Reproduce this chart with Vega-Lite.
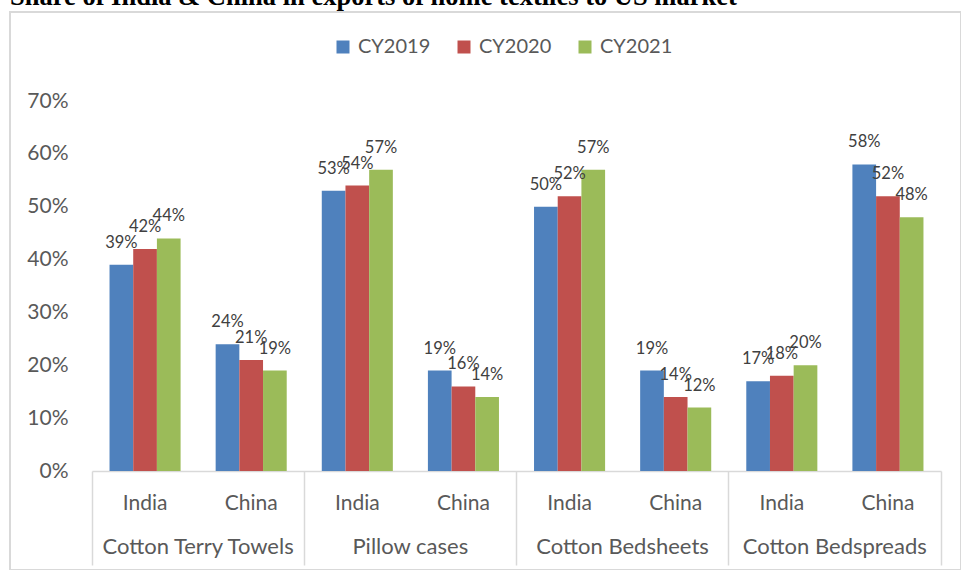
{
  "$schema": "https://vega.github.io/schema/vega-lite/v6.json",
  "width": 951,
  "height": 558,
  "autosize": {"type": "none"},
  "padding": {"left": 10, "top": 12, "right": 0, "bottom": 0},
  "background": "white",
  "title": {
    "text": "Share of India & China in exports of home textiles to US market",
    "anchor": "start",
    "frame": "group",
    "font": "Liberation Serif",
    "fontSize": 26.5,
    "fontWeight": "bold",
    "color": "black",
    "baseline": "alphabetic",
    "offset": 0,
    "dy": 19
  },
  "config": {
    "view": {"stroke": "#d9d9d9", "strokeWidth": 2},
    "axis": {"grid": false}
  },
  "data": {
    "values": [
      {"group": "Cotton Terry Towels|India", "year": "CY2019", "value": 0.39},
      {"group": "Cotton Terry Towels|India", "year": "CY2020", "value": 0.42},
      {"group": "Cotton Terry Towels|India", "year": "CY2021", "value": 0.44},
      {"group": "Cotton Terry Towels|China", "year": "CY2019", "value": 0.24},
      {"group": "Cotton Terry Towels|China", "year": "CY2020", "value": 0.21},
      {"group": "Cotton Terry Towels|China", "year": "CY2021", "value": 0.19},
      {"group": "Pillow cases|India", "year": "CY2019", "value": 0.53},
      {"group": "Pillow cases|India", "year": "CY2020", "value": 0.54},
      {"group": "Pillow cases|India", "year": "CY2021", "value": 0.57},
      {"group": "Pillow cases|China", "year": "CY2019", "value": 0.19},
      {"group": "Pillow cases|China", "year": "CY2020", "value": 0.16},
      {"group": "Pillow cases|China", "year": "CY2021", "value": 0.14},
      {"group": "Cotton Bedsheets|India", "year": "CY2019", "value": 0.50},
      {"group": "Cotton Bedsheets|India", "year": "CY2020", "value": 0.52},
      {"group": "Cotton Bedsheets|India", "year": "CY2021", "value": 0.57},
      {"group": "Cotton Bedsheets|China", "year": "CY2019", "value": 0.19},
      {"group": "Cotton Bedsheets|China", "year": "CY2020", "value": 0.14},
      {"group": "Cotton Bedsheets|China", "year": "CY2021", "value": 0.12},
      {"group": "Cotton Bedspreads|India", "year": "CY2019", "value": 0.17},
      {"group": "Cotton Bedspreads|India", "year": "CY2020", "value": 0.18},
      {"group": "Cotton Bedspreads|India", "year": "CY2021", "value": 0.20},
      {"group": "Cotton Bedspreads|China", "year": "CY2019", "value": 0.58},
      {"group": "Cotton Bedspreads|China", "year": "CY2020", "value": 0.52},
      {"group": "Cotton Bedspreads|China", "year": "CY2021", "value": 0.48}
    ]
  },
  "layer": [
    {
      "mark": {"type": "bar"},
      "encoding": {
        "x": {
          "field": "group", "type": "nominal", "sort": null,
          "scale": {"range": [82, 931], "paddingInner": 0, "paddingOuter": 0},
          "axis": {
            "orient": "bottom", "offset": -99, "title": null,
            "ticks": false, "domain": true, "domainColor": "#d9d9d9", "domainWidth": 1.5,
            "labelExpr": "split(datum.value, '|')[1]",
            "labelFont": "Lato", "labelFontSize": 21, "labelColor": "#595959",
            "labelPadding": 21, "labelAngle": 0, "labelOverlap": false
          }
        },
        "xOffset": {
          "field": "year", "type": "nominal",
          "scale": {"paddingInner": 0, "paddingOuter": 0.74}
        },
        "y": {
          "field": "value", "type": "quantitative",
          "scale": {"domain": [0, 0.7], "range": [459, 89], "nice": false},
          "axis": {
            "orient": "left", "offset": -82, "title": null,
            "values": [0, 0.1, 0.2, 0.3, 0.4, 0.5, 0.6, 0.7],
            "format": ".0%", "domain": false, "ticks": false, "grid": false,
            "labelFont": "Lato", "labelFontSize": 21, "labelColor": "#595959",
            "labelPadding": 24
          }
        },
        "color": {
          "field": "year", "type": "nominal",
          "scale": {"domain": ["CY2019", "CY2020", "CY2021"], "range": ["#4F81BD", "#C0504D", "#9BBB59"]},
          "legend": {
            "orient": "none", "legendX": 323, "legendY": 25,
            "direction": "horizontal", "title": null,
            "symbolType": "square", "symbolSize": 169, "symbolStrokeWidth": 0,
            "labelFont": "Lato", "labelFontSize": 20, "labelColor": "#595959",
            "columnPadding": 23, "labelOffset": 5, "padding": 0
          }
        }
      }
    },
    {
      "mark": {"type": "text", "baseline": "alphabetic", "dy": -17, "font": "Lato", "fontSize": 16.5, "color": "#404040"},
      "encoding": {
        "x": {
          "field": "group", "type": "nominal", "sort": null,
          "axis": {
            "orient": "bottom", "offset": -99, "title": null,
            "values": ["Cotton Terry Towels|India", "Pillow cases|India", "Cotton Bedsheets|India", "Cotton Bedspreads|India"],
            "bandPosition": 0,
            "ticks": true, "tickSize": 94, "tickColor": "#d9d9d9", "tickWidth": 1.5,
            "domain": false,
            "labelExpr": "split(datum.value, '|')[0]",
            "labelOffset": 53, "labelPadding": -29, "labelLimit": 0,
            "labelFont": "Lato", "labelFontSize": 22, "labelColor": "#595959",
            "labelAngle": 0, "labelOverlap": false, "labelBound": false
          }
        },
        "xOffset": {"field": "year", "type": "nominal"},
        "y": {"field": "value", "type": "quantitative"},
        "text": {"field": "value", "type": "quantitative", "format": ".0%"}
      }
    },
    {
      "mark": {"type": "text", "opacity": 0, "text": ""},
      "encoding": {
        "x": {
          "field": "group", "type": "nominal", "sort": null,
          "axis": {
            "orient": "bottom", "offset": -99, "title": null,
            "values": ["Cotton Bedspreads|China"],
            "bandPosition": 1,
            "ticks": true, "tickSize": 94, "tickColor": "#d9d9d9", "tickWidth": 1.5,
            "domain": false, "labels": false
          }
        }
      }
    }
  ],
  "resolve": {"axis": {"x": "independent"}}
}
